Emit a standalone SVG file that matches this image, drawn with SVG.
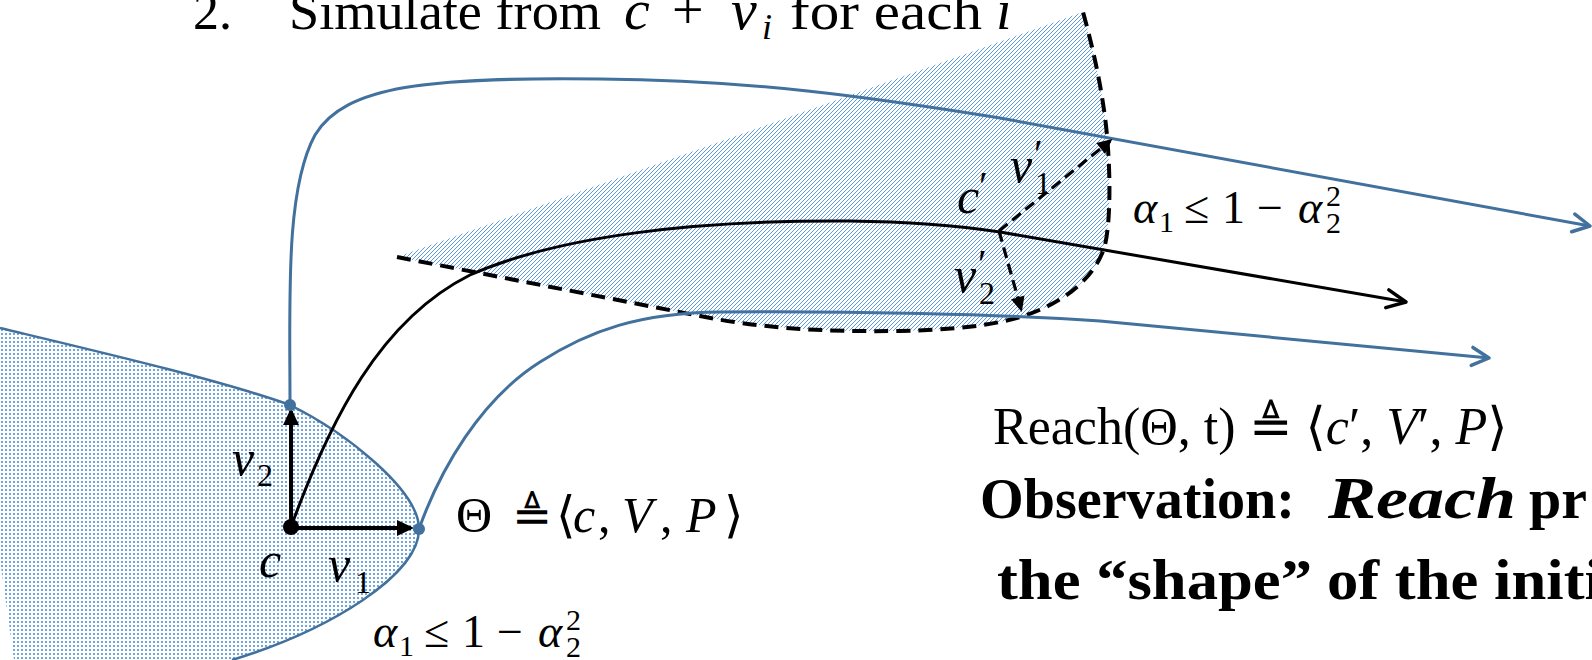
<svg xmlns="http://www.w3.org/2000/svg" width="1592" height="660" viewBox="0 0 1592 660">
<style>
.t{font-family:"Liberation Serif","DejaVu Serif",serif;fill:#000}
.m{font-family:"Liberation Serif","DejaVu Serif",serif;font-style:italic;fill:#000}
.u{font-family:"Liberation Serif","DejaVu Serif",serif;fill:#000}
.b{font-family:"Liberation Serif","DejaVu Serif",serif;font-weight:bold;fill:#000}
.traj{fill:none;stroke:#41719C;stroke-width:3}
.blk{fill:none;stroke:#000;stroke-width:3}
.vec{fill:none;stroke:#000;stroke-width:4}
.dash{fill:none;stroke:#000;stroke-width:4;stroke-dasharray:14 8}
.dv{fill:none;stroke:#000;stroke-width:3.2;stroke-dasharray:11 6}
</style>
<defs>
<pattern id="dots" width="4" height="4" patternUnits="userSpaceOnUse">
<rect x="1" y="1" width="2" height="2" fill="#6FA6E0" shape-rendering="crispEdges"/>
</pattern>
<pattern id="hatch" width="4" height="4" patternUnits="userSpaceOnUse">
<g fill="#5C9BE0" shape-rendering="crispEdges">
<rect x="0" y="3" width="1" height="1"/><rect x="1" y="2" width="1" height="1"/><rect x="2" y="1" width="1" height="1"/><rect x="3" y="0" width="1" height="1"/>
</g>
</pattern>
<marker id="af" markerUnits="userSpaceOnUse" markerWidth="40" markerHeight="40" orient="auto" overflow="visible">
<path d="M3,0 L-14,-8 L-14,8 Z" fill="#000"/>
</marker>
<marker id="ad" markerUnits="userSpaceOnUse" markerWidth="40" markerHeight="40" orient="auto" overflow="visible">
<path d="M3,0 L-12,-7 L-12,7 Z" fill="#000"/>
</marker>
<marker id="cb" markerUnits="userSpaceOnUse" markerWidth="40" markerHeight="40" orient="auto" overflow="visible">
<path d="M-17,-9 L0,0 L-17,9" fill="none" stroke="#41719C" stroke-width="3.5" stroke-linecap="round" stroke-linejoin="round"/>
</marker>
<marker id="ck" markerUnits="userSpaceOnUse" markerWidth="40" markerHeight="40" orient="auto" overflow="visible">
<path d="M-19,-9 L0,0 L-19,9" fill="none" stroke="#000" stroke-width="3.5" stroke-linecap="round" stroke-linejoin="round"/>
</marker>
</defs>

<g id="initial-set">
<path d="M0,328 C100,352 220,380 290,405 C345,432 419,490 419,529 C419,575 330,630 232,660 L14,660 L0,560 Z" fill="url(#dots)"/>
<path d="M0,328 C100,352 220,380 290,405 C345,432 419,490 419,529 C419,575 330,630 232,660" fill="none" stroke="#41719C" stroke-width="2.5"/>
</g>

<g id="reach-set">
<path d="M397,257 L700,316 C760,328 820,332 900,331 C950,330 990,326 1020,317 C1060,305 1095,280 1105,245 C1112,215 1110,150 1104,110 C1099,75 1092,45 1083,12 Z" fill="url(#hatch)"/>
<path class="dash" d="M397,257 L700,316 C760,328 820,332 900,331 C950,330 990,326 1020,317 C1060,305 1095,280 1105,245 C1112,215 1110,150 1104,110 C1099,75 1092,45 1083,12"/>
</g>

<g id="connectors">
<path class="traj" d="M290,405 C290,300 285,190 315,135 C345,85 430,77 600,79 C750,80 870,97 1000,118 L1590,226" marker-end="url(#cb)"/>
<path class="traj" d="M419,529 C440,470 480,400 540,362 C590,330 640,313 720,312 C850,311 1000,314 1100,321 L1489,358" marker-end="url(#cb)"/>
<path class="blk" d="M291,527 C330,420 380,320 470,275 C560,235 700,220 850,221 C930,222 980,229 1000,232 L1406,302" marker-end="url(#ck)"/>
<line class="vec" x1="291" y1="527" x2="291" y2="411" marker-end="url(#af)"/>
<line class="vec" x1="291" y1="528" x2="411" y2="528" marker-end="url(#af)"/>
<line class="dv" x1="999" y1="231" x2="1110" y2="141" marker-end="url(#ad)"/>
<line class="dv" x1="999" y1="231" x2="1021" y2="309" marker-end="url(#ad)"/>
</g>

<g id="points">
<circle cx="290" cy="405" r="6" fill="#41719C"/>
<circle cx="419" cy="529" r="6" fill="#41719C"/>
<circle cx="291" cy="527" r="8" fill="#000"/>
</g>

<g id="title">
<text class="t" x="193" y="29" font-size="52">2.</text>
<text class="t" x="289" y="29" font-size="52" textLength="312" lengthAdjust="spacingAndGlyphs">Simulate from</text>
<text class="m" x="624" y="29" font-size="58">c</text>
<text class="u" x="672" y="29" font-size="56">+</text>
<text class="m" x="731" y="29" font-size="58">v</text>
<text class="m" x="762" y="39" font-size="36">i</text>
<text class="t" x="790" y="29" font-size="52" textLength="192" lengthAdjust="spacingAndGlyphs">for each</text>
<text class="m" x="996" y="29" font-size="56">i</text>
</g>

<g id="labels-initial">
<text class="m" x="232" y="475" font-size="50">v</text>
<text class="u" x="257" y="486" font-size="32">2</text>
<text class="m" x="259" y="577" font-size="50">c</text>
<text class="m" x="328" y="581" font-size="50">v</text>
<text class="u" x="355" y="593" font-size="32">1</text>
<text class="u" x="456" y="532" font-size="50">Θ</text>
<text class="u" x="512" y="532" font-size="48">≜</text>
<text class="u" x="556" y="532" font-size="50">⟨</text>
<text class="m" x="573" y="532" font-size="50">c</text>
<text class="u" x="598" y="532" font-size="50">,</text>
<text class="m" x="622" y="532" font-size="50">V</text>
<text class="u" x="660" y="532" font-size="50">,</text>
<text class="m" x="686" y="532" font-size="50">P</text>
<text class="u" x="724" y="532" font-size="50">⟩</text>
<text class="m" x="373" y="647" font-size="46">α</text>
<text class="u" x="399" y="656" font-size="30">1</text>
<text class="u" x="424" y="647" font-size="46">≤</text>
<text class="u" x="462" y="647" font-size="46">1</text>
<text class="u" x="497" y="647" font-size="46">−</text>
<text class="m" x="538" y="647" font-size="46">α</text>
<text class="u" x="566" y="630" font-size="30">2</text>
<text class="u" x="566" y="657" font-size="30">2</text>
</g>

<g id="labels-reach">
<text class="m" x="957" y="213" font-size="50">c</text>
<text class="u" x="979" y="199" font-size="40">′</text>
<text class="m" x="1010" y="182" font-size="50">v</text>
<text class="u" x="1034" y="167" font-size="40">′</text>
<text class="u" x="1035" y="194" font-size="32">1</text>
<text class="m" x="954" y="292" font-size="50">v</text>
<text class="u" x="978" y="277" font-size="40">′</text>
<text class="u" x="979" y="304" font-size="32">2</text>
<text class="m" x="1133" y="223" font-size="46">α</text>
<text class="u" x="1159" y="232" font-size="30">1</text>
<text class="u" x="1184" y="223" font-size="46">≤</text>
<text class="u" x="1222" y="223" font-size="46">1</text>
<text class="u" x="1257" y="223" font-size="46">−</text>
<text class="m" x="1298" y="223" font-size="46">α</text>
<text class="u" x="1326" y="206" font-size="30">2</text>
<text class="u" x="1326" y="233" font-size="30">2</text>
</g>

<g id="reach-def">
<text class="u" x="993" y="444" font-size="52">Reach(Θ, t) ≜ ⟨<tspan class="m">c</tspan>′, <tspan class="m">V</tspan>′, <tspan class="m">P</tspan>⟩</text>
</g>

<g id="observation">
<text class="b" x="980" y="518" font-size="58" textLength="315" lengthAdjust="spacingAndGlyphs">Observation:</text>
<text class="b" x="1328" y="518" font-size="60" font-style="italic" textLength="188" lengthAdjust="spacingAndGlyphs">Reach</text>
<text class="b" x="1529" y="518" font-size="58">pr</text>
<text class="b" x="997" y="599" font-size="58" textLength="315" lengthAdjust="spacingAndGlyphs">the “shape”</text>
<text class="b" x="1327" y="599" font-size="58" textLength="275" lengthAdjust="spacingAndGlyphs">of the initi</text>
</g>
</svg>
